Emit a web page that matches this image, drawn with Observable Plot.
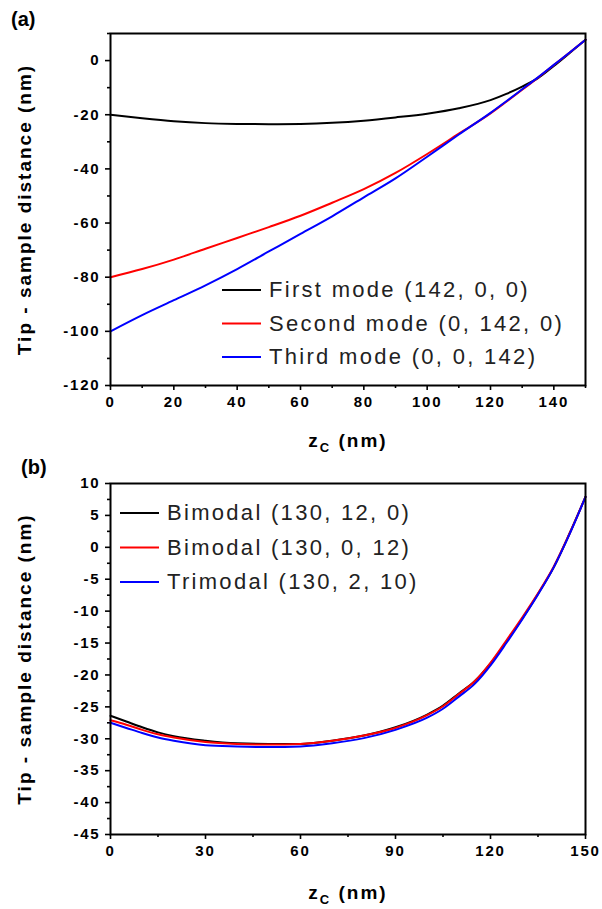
<!DOCTYPE html>
<html><head><meta charset="utf-8">
<script src="https://cdn.jsdelivr.net/npm/d3@7"></script>
<script src="https://cdn.jsdelivr.net/npm/@observablehq/plot@0.6"></script>
<style>
body{margin:0;background:#fff;}
#wrap{width:602px;}
#wrap svg{display:block;}
#wrap g[aria-label$="tick label"] text{letter-spacing:1.8px;}
#wrap g[aria-label$="axis label"] text{letter-spacing:2px;}
</style></head><body><div id="wrap"></div>
<script>
// ---- Panel (a) data ----
const zA = [0,10,20,30,40,50,60,70,80,90,100,110,120,125,130,135,140,145,150];
const firstModeA  = [-20,-21.3,-22.4,-23.1,-23.4,-23.5,-23.4,-23,-22.2,-21,-19.6,-17.6,-14.6,-12.3,-9.6,-6.5,-2.0,2.8,7.7];
const secondModeA = [-80,-77,-73.5,-69.5,-65.5,-61.5,-57.3,-52.5,-47.5,-41.5,-34.5,-27,-19.5,-15.2,-10.8,-6.3,-1.6,3,7.7];
const thirdModeA  = [-100,-94,-88.5,-83,-77,-70.5,-64,-57.5,-50.5,-43.5,-35.5,-27.3,-19.3,-15,-10.6,-6.2,-1.6,3,7.7];
const legendA = ["First mode (142, 0, 0)","Second mode (0, 142, 0)","Third mode (0, 0, 142)"];
const xTicksA = [0,20,40,60,80,100,120,140];
const xMinorA = [10,30,50,70,90,110,130,150];
const yTicksA = [-120,-100,-80,-60,-40,-20,0];
const yMinorA = [-110,-90,-70,-50,-30,-10,10];

// ---- Panel (b) data ----
const zB = [0,5,10,15,20,30,40,50,60,70,80,90,100,105,110,115,120,125,130,135,140,145,150];
const bimodal12B  = [-26.4,-27.3,-28.2,-29,-29.6,-30.3,-30.7,-30.8,-30.8,-30.3,-29.5,-28.2,-26.2,-24.8,-22.9,-21,-18.2,-14.8,-11.2,-7.3,-3.1,2.2,7.9];
const bimodal13B  = [-27.1,-27.8,-28.6,-29.3,-29.8,-30.5,-30.8,-30.9,-30.8,-30.3,-29.5,-28.3,-26.3,-24.9,-23,-21,-18.1,-14.6,-11,-7.2,-3,2.2,7.9];
const trimodalB   = [-27.5,-28.3,-29.1,-29.8,-30.3,-31,-31.2,-31.3,-31.2,-30.7,-29.9,-28.6,-26.7,-25.3,-23.4,-21.4,-18.5,-15,-11.3,-7.4,-3.1,2.1,7.9];
const legendB = ["Bimodal (130, 12, 0)","Bimodal (130, 0, 12)","Trimodal (130, 2, 10)"];
const xTicksB = [0,30,60,90,120,150];
const xMinorB = [15,45,75,105,135];
const yTicksB = [-45,-40,-35,-30,-25,-20,-15,-10,-5,0,5,10];
const yMinorB = [-42.5,-37.5,-32.5,-27.5,-22.5,-17.5,-12.5,-7.5,-2.5,2.5,7.5];

const colors = ["#000000","#ff0000","#0000ff"];
const FONT = "'Liberation Sans', Arial, sans-serif";

function panel(cfg){
  const fmt = d => String(d);
  const series = cfg.series.map((ys, i) =>
    Plot.line(cfg.z, {x: cfg.z, y: ys, stroke: colors[i], strokeWidth: 2, curve: "monotone-x"}));
  const svg = Plot.plot({
    width: 602, height: cfg.height,
    marginTop: cfg.mt, marginBottom: cfg.mb, marginLeft: 110, marginRight: 17,
    style: {fontFamily: FONT, color: "#000", background: "#fff", overflow: "visible"},
    x: {domain: [0,150]},
    y: {domain: cfg.yDomain},
    marks: [
      Plot.axisX({ticks: cfg.xMinor, tickSize: 3, tickFormat: () => "", strokeWidth: 1.6, label: null}),
      Plot.axisX({ticks: cfg.xTicks, tickSize: 5, tickPadding: 6, tickFormat: fmt, fontSize: 15, fontWeight: "bold", strokeWidth: 1.6, label: null}),
      Plot.axisY({ticks: cfg.yMinor, tickSize: 3, tickFormat: () => "", strokeWidth: 1.6, label: null}),
      Plot.axisY({ticks: cfg.yTicks, tickSize: 5, tickPadding: 5, tickFormat: fmt, fontSize: 15, fontWeight: "bold", strokeWidth: 1.6,
        label: "Tip - sample distance (nm)", labelAnchor: "center", labelArrow: "none", labelOffset: 93}),
      ...series,
      Plot.frame({stroke: "#000", strokeWidth: 2})
    ]
  });
  const s = d3.select(svg);
  s.selectAll('g[aria-label="y-axis label"] text').attr("font-size", 19).attr("font-weight", "bold");
  // x-axis title with subscript
  const xt = s.append("text").attr("x", 348).attr("y", cfg.xTitleY).attr("text-anchor", "middle")
    .attr("font-family", FONT).attr("font-weight", "bold").attr("font-size", 19).attr("letter-spacing", "2px");
  xt.append("tspan").text("z");
  xt.append("tspan").attr("font-size", 13).attr("dy", 5).text("C");
  xt.append("tspan").attr("dy", -5).text(" (nm)");
  // panel tag
  s.append("text").attr("x", cfg.tagX).attr("y", cfg.tagY).attr("text-anchor", "start").attr("font-family", FONT)
    .attr("font-weight", "bold").attr("font-size", 20).text(cfg.tag);
  // legend
  const lg = s.append("g").attr("font-family", FONT).attr("font-size", 22).attr("fill", "#222")
    .attr("text-anchor", "start").attr("letter-spacing", "2.3px");
  cfg.legend.forEach((t, i) => {
    const y = cfg.legY + i * cfg.legStep;
    lg.append("line").attr("x1", cfg.legX).attr("x2", cfg.legX + 39).attr("y1", y).attr("y2", y)
      .attr("stroke", colors[i]).attr("stroke-width", 2);
    lg.append("text").attr("x", cfg.legX + 47).attr("y", y + 7).attr("text-anchor", "start").text(t);
  });
  return svg;
}

const wrap = document.getElementById("wrap");
wrap.appendChild(panel({
  height: 455, mt: 33, mb: 70, yDomain: [-120, 10], z: zA,
  series: [firstModeA, secondModeA, thirdModeA],
  xTicks: xTicksA, xMinor: xMinorA, yTicks: yTicksA, yMinor: yMinorA,
  xTitleY: 447, tag: "(a)", tagX: 11, tagY: 26,
  legend: legendA, legX: 222, legY: 290, legStep: 33.5
}));
wrap.appendChild(panel({
  height: 454, mt: 28, mb: 75, yDomain: [-45, 10], z: zB,
  series: [bimodal12B, bimodal13B, trimodalB],
  xTicks: xTicksB, xMinor: xMinorB, yTicks: yTicksB, yMinor: yMinorB,
  xTitleY: 444, tag: "(b)", tagX: 21, tagY: 19,
  legend: legendB, legX: 120, legY: 58, legStep: 34.5
}));
</script></body></html>
